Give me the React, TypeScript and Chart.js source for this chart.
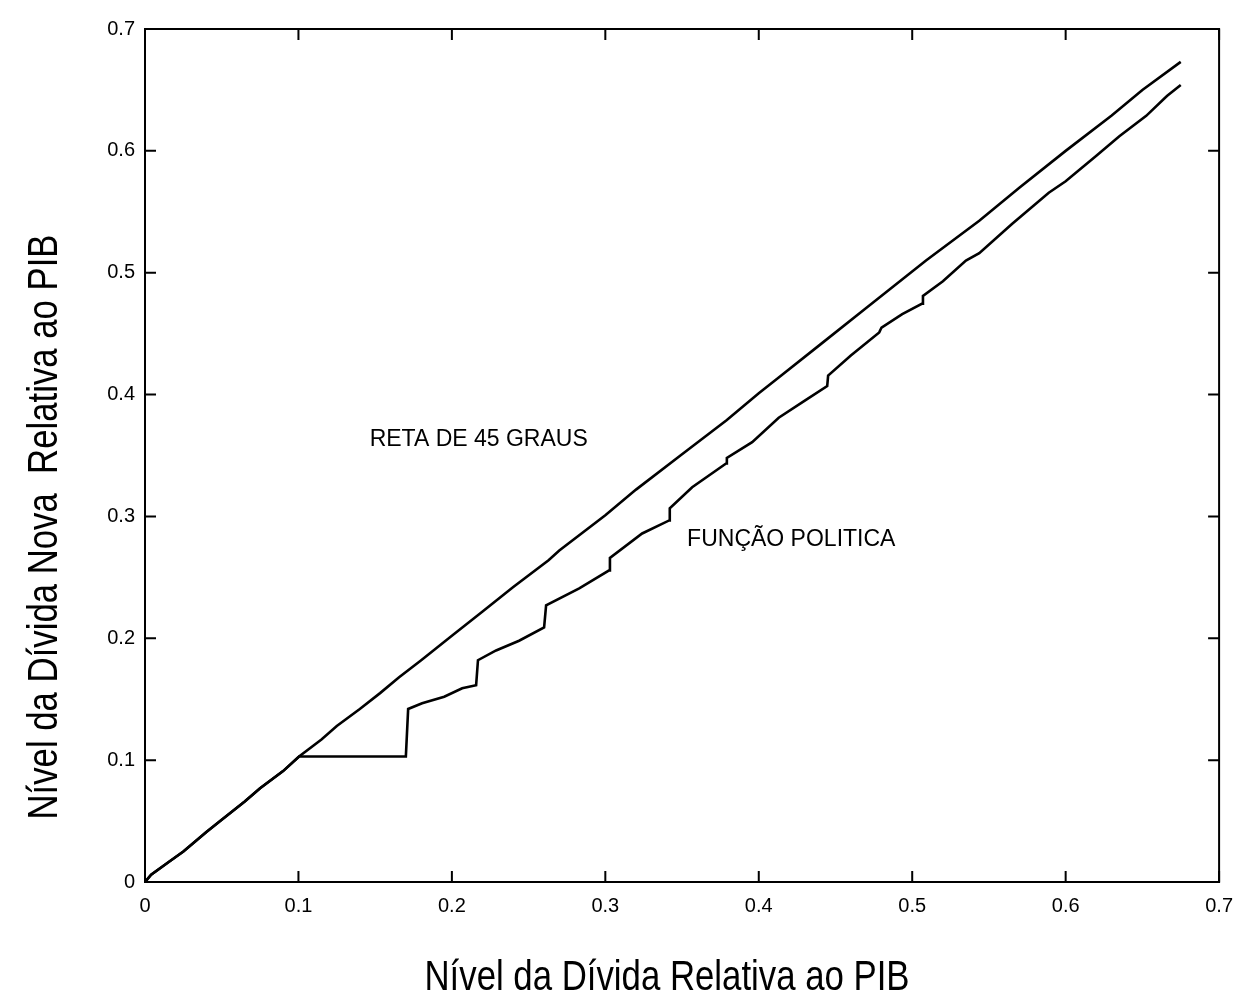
import React, { useEffect, useRef } from "react";
import { Chart, registerables } from "chart.js";

Chart.register(...registerables);

const FONT = "'Liberation Sans', Arial, Helvetica, sans-serif";

const xTickLabels = ["0", "0.1", "0.2", "0.3", "0.4", "0.5", "0.6", "0.7"];
const yTickLabels = ["0", "0.1", "0.2", "0.3", "0.4", "0.5", "0.6", "0.7"];

const xTitle = "Nível da Dívida Relativa ao PIB";
const yTitle = "Nível da Dívida Nova  Relativa ao PIB";

// 45-degree line
const retaX = [0, 0.004, 0.015, 0.025, 0.04, 0.05, 0.065, 0.075, 0.09, 0.1004, 0.115, 0.125, 0.14, 0.1532, 0.1656, 0.18, 0.2, 0.22, 0.24, 0.263, 0.27, 0.3, 0.32, 0.35, 0.379, 0.4, 0.413, 0.44, 0.47, 0.509, 0.5437, 0.57, 0.6, 0.63, 0.65, 0.675];
const retaY = [0, 0.006, 0.016, 0.025, 0.041, 0.051, 0.066, 0.077, 0.091, 0.103, 0.117, 0.128, 0.142, 0.155, 0.168, 0.182, 0.202, 0.222, 0.242, 0.264, 0.272, 0.301, 0.322, 0.351, 0.379, 0.401, 0.414, 0.441, 0.471, 0.51, 0.5426, 0.57, 0.6, 0.629, 0.65, 0.673];

// policy function
const politicaX = [0, 0.004, 0.015, 0.025, 0.04, 0.05, 0.065, 0.075, 0.09, 0.1004, 0.17, 0.1715, 0.1806, 0.195, 0.2067, 0.2158, 0.217, 0.2288, 0.2438, 0.2601, 0.2614, 0.283, 0.3025, 0.303, 0.324, 0.3416, 0.342, 0.3566, 0.3787, 0.3792, 0.3957, 0.413, 0.43, 0.4446, 0.4452, 0.46, 0.4785, 0.48, 0.4935, 0.5065, 0.507, 0.52, 0.535, 0.5437, 0.565, 0.589, 0.6, 0.62, 0.635, 0.6525, 0.666, 0.675];
const politicaY = [0, 0.006, 0.016, 0.025, 0.041, 0.051, 0.066, 0.077, 0.091, 0.103, 0.103, 0.142, 0.1467, 0.152, 0.159, 0.1615, 0.182, 0.19, 0.198, 0.209, 0.227, 0.241, 0.2557, 0.266, 0.286, 0.2967, 0.3066, 0.324, 0.3434, 0.348, 0.361, 0.381, 0.395, 0.407, 0.4156, 0.432, 0.451, 0.455, 0.466, 0.4746, 0.481, 0.493, 0.51, 0.516, 0.54, 0.5656, 0.575, 0.596, 0.612, 0.6287, 0.645, 0.654];

const annotationTexts = ["RETA DE 45 GRAUS", "FUNÇÃO POLITICA"];
const annotationX = [0.1464, 0.3533];
const annotationY = [0.3626, 0.2806];

const framePlugin = {
  id: "framePlugin",
  afterDraw(chart: any) {
    const ctx = chart.ctx;
    const { left, right, top, bottom } = chart.chartArea;
    const xs = chart.scales.x;
    const ys = chart.scales.y;
    ctx.save();
    ctx.strokeStyle = "#000";
    ctx.lineWidth = 2;
    ctx.strokeRect(left, top, right - left, bottom - top);
    const tl = 11;
    ctx.beginPath();
    xs.ticks.forEach((t: any) => {
      const px = xs.getPixelForValue(t.value);
      ctx.moveTo(px, bottom);
      ctx.lineTo(px, bottom - tl);
      ctx.moveTo(px, top);
      ctx.lineTo(px, top + tl);
    });
    ys.ticks.forEach((t: any) => {
      const py = ys.getPixelForValue(t.value);
      ctx.moveTo(left, py);
      ctx.lineTo(left + tl, py);
      ctx.moveTo(right, py);
      ctx.lineTo(right - tl, py);
    });
    ctx.stroke();

    // annotations
    ctx.fillStyle = "#000";
    ctx.font = `23px ${FONT}`;
    ctx.textAlign = "left";
    ctx.textBaseline = "middle";
    annotationTexts.forEach((txt, i) => {
      ctx.fillText(txt, xs.getPixelForValue(annotationX[i]), ys.getPixelForValue(annotationY[i]));
    });

    // axis titles (narrow)
    ctx.font = `42px ${FONT}`;
    ctx.textAlign = "center";
    ctx.textBaseline = "alphabetic";
    const wx = ctx.measureText(xTitle).width;
    ctx.save();
    ctx.translate(667, 990);
    ctx.scale(485 / wx, 1);
    ctx.fillText(xTitle, 0, 0);
    ctx.restore();

    const wy = ctx.measureText(yTitle).width;
    ctx.save();
    ctx.translate(57, 527);
    ctx.rotate(-Math.PI / 2);
    ctx.scale(585 / wy, 1);
    ctx.fillText(yTitle, 0, 0);
    ctx.restore();
    ctx.restore();
  },
};

export default function App() {
  const ref = useRef<HTMLCanvasElement | null>(null);
  useEffect(() => {
    if (!ref.current) return;
    Chart.defaults.font.family = FONT;
    const chart = new Chart(ref.current, {
      type: "line",
      data: {
        datasets: [
          {
            label: "RETA DE 45 GRAUS",
            data: retaX.map((x, i) => ({ x, y: retaY[i] })),
            borderColor: "#000",
            borderWidth: 2.6,
            pointRadius: 0,
            tension: 0,
            fill: false,
          },
          {
            label: "FUNÇÃO POLITICA",
            data: politicaX.map((x, i) => ({ x, y: politicaY[i] })),
            borderColor: "#000",
            borderWidth: 2.6,
            pointRadius: 0,
            tension: 0,
            fill: false,
          },
        ],
      },
      options: {
        responsive: false,
        animation: false,
        devicePixelRatio: 1,
        layout: { padding: { left: 0, top: 29, right: 23, bottom: 0 } },
        plugins: { legend: { display: false }, tooltip: { enabled: false } },
        scales: {
          x: {
            type: "linear",
            min: 0,
            max: 0.7,
            afterFit: (s: any) => {
              s.height = 112;
            },
            grid: { display: false, drawTicks: false },
            border: { display: false },
            ticks: {
              stepSize: 0.1,
              padding: 12,
              color: "#000",
              font: { size: 20, family: FONT },
              maxRotation: 0,
              callback: (_v: any, i: number) => xTickLabels[i],
            },
          },
          y: {
            type: "linear",
            min: 0,
            max: 0.7,
            afterFit: (s: any) => {
              s.width = 145;
            },
            grid: { display: false, drawTicks: false },
            border: { display: false },
            ticks: {
              stepSize: 0.1,
              padding: 10,
              color: "#000",
              font: { size: 20, family: FONT },
              callback: (_v: any, i: number) => yTickLabels[i],
            },
          },
        },
      },
      plugins: [framePlugin],
    });
    return () => chart.destroy();
  }, []);
  return (
    <div style={{ position: "absolute", left: 0, top: 0, width: 1245, height: 994, background: "#fff" }}>
      <canvas ref={ref} width={1245} height={994} />
    </div>
  );
}
